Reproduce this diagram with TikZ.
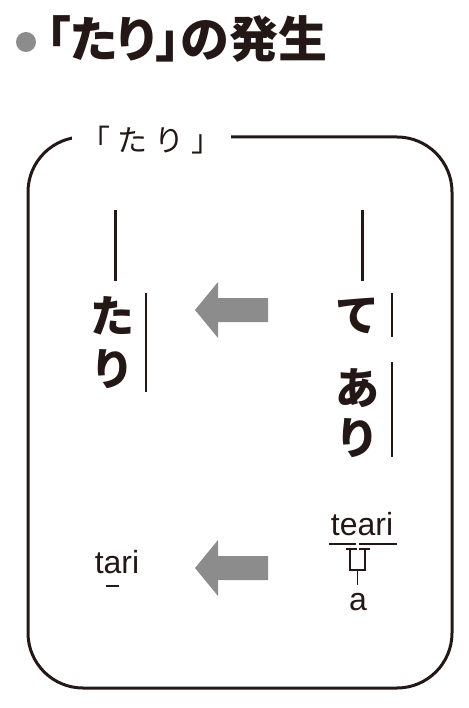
\documentclass[tikz,border=0pt]{standalone}
\usepackage{fontspec}
\newfontfamily\jp{Noto Sans CJK JP}
\newfontfamily\jptitle[RawFeature=+palt]{Noto Sans CJK JP}
\newfontfamily\latin{Liberation Sans}
\definecolor{ink}{RGB}{35,24,21}
\definecolor{arrowgray}{RGB}{140,140,140}
\tikzset{
  vchar/.style={inner sep=0pt, font=\jp\bfseries\fontsize{44}{44}\selectfont, text=ink},
  latinword/.style={inner sep=0pt, font=\latin\fontsize{32}{32}\selectfont, text=ink},
  dashline/.style={ink, line width=3pt},
  sideline/.style={ink, line width=2pt},
  thinline/.style={ink, line width=1.8pt}
}
\begin{document}
\begin{tikzpicture}[x=1pt,y=-1pt]
    \useasboundingbox (0,0) rectangle (468,708);
    \fill[arrowgray] (26,42) circle (10pt);
    \node[anchor=base west, inner sep=0pt, font=\jptitle\bfseries\fontsize{49}{49}\selectfont, text=ink] (title) at (46,58) {「たり」の発生};

    \draw[ink, line width=3pt, rounded corners=55pt] (28,137) rectangle (452,688);
    \node[fill=white, inner xsep=9pt, inner ysep=2pt, font=\jp\fontsize{30}{30}\selectfont, text=ink] (label) at (151,140) {「\kern7pt た\kern7pt り\kern7pt 」};

    % left column
    \draw[dashline] (115,210) -- (115,281);
    \node[vchar] (ta) at (112,316) {た};
    \node[vchar] (ri) at (112,369) {り};
    \draw[sideline] (146,293) -- (146,392);

    % right column
    \draw[dashline] (362,210) -- (362,281);
    \node[vchar] (te) at (357,316) {て};
    \node[vchar] (a) at (357,388) {あ};
    \node[vchar] (ri2) at (357,438) {り};
    \draw[sideline] (392,293) -- (392,337);
    \draw[sideline] (392,362) -- (392,457);

    % arrows
    \foreach \y in {310,568}
        \fill[arrowgray] (195,\y) -- (218,\y-28) -- (218,\y-12) -- (268,\y-12) -- (268,\y+12) -- (218,\y+12) -- (218,\y+28) -- cycle;

    % romanization
    \node[latinword, anchor=base] (tari) at (117,573) {tari};
    \draw[thinline] (106,586) -- (119,586);
    \node[latinword, anchor=base] (teari) at (362,535) {teari};
    \draw[thinline] (329,544) -- (356,544);
    \draw[thinline] (359,544) -- (397,544);
    \draw[thinline] (346,549) -- (357,549);
    \draw[thinline] (359,549) -- (370,549);
    \draw[thinline] (350,549) -- (350,570) -- (365,570) -- (365,549);
    \draw[thinline] (357.5,570) -- (357.5,585);
    \node[latinword, anchor=base] (aa) at (358,610) {a};
\end{tikzpicture}
\end{document}
